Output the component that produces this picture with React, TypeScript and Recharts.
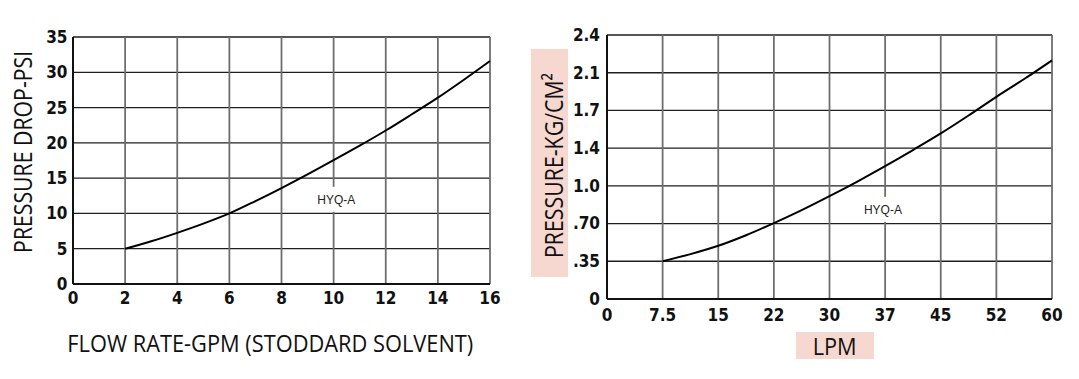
import React from "react";
import {
  LineChart,
  Line,
  XAxis,
  YAxis,
  CartesianGrid,
  ReferenceDot,
} from "recharts";

// ---- Left chart data (GPM vs PSI) ----
const gpm = [2, 3, 4, 5, 6, 7, 8, 9, 10, 11, 12, 13, 14, 15, 16];
const psi = [5, 6.05, 7.25, 8.55, 10, 11.75, 13.6, 15.55, 17.55, 19.6, 21.75, 24.05, 26.4, 28.95, 31.6];
const gpmTicks = [0, 2, 4, 6, 8, 10, 12, 14, 16];
const psiTicks = [0, 5, 10, 15, 20, 25, 30, 35];

// ---- Right chart data (LPM vs KG/CM2) ----
const lpm = [7.5, 11.25, 15, 18.75, 22.5, 26.25, 30, 33.75, 37.5, 41.25, 45, 48.75, 52.5, 56.25, 60];
const kg = [0.343, 0.408, 0.484, 0.58, 0.69, 0.808, 0.935, 1.068, 1.208, 1.354, 1.505, 1.668, 1.838, 2.0, 2.17];
const lpmTicks = [0, 7.5, 15, 22.5, 30, 37.5, 45, 52.5, 60];
const lpmTickLabels = ["0", "7.5", "15", "22", "30", "37", "45", "52", "60"];
const kgTicks = [0, 0.343, 0.686, 1.029, 1.371, 1.714, 2.057, 2.4];
const kgTickLabels = ["0", ".35", ".70", "1.0", "1.4", "1.7", "2.1", "2.4"];

const seriesName = "HYQ-A";

const leftData = gpm.map((g, i) => ({ x: g, y: psi[i] }));
const rightData = lpm.map((l, i) => ({ x: l, y: kg[i] }));

const tickFont = '"Liberation Sans Narrow", "Arial Narrow", "DejaVu Sans Condensed", sans-serif';
const titleFont = '"Open Sans", "Noto Sans", sans-serif';
const PINK = "#f6d8d1";

const makeXTick = (labels: string[] | null, ticks: number[], dy: number) => (props: any) => {
  const { x, y, payload } = props;
  const idx = ticks.indexOf(payload.value);
  const label = labels && idx >= 0 ? labels[idx] : String(payload.value);
  return (
    <text
      x={x}
      y={y + dy}
      textAnchor="middle"
      fontFamily={tickFont}
      fontWeight="bold"
      fontSize={17}
      fill="#111"
    >
      {label}
    </text>
  );
};

const makeYTick = (labels: string[] | null, ticks: number[], dx: number) => (props: any) => {
  const { x, y, payload } = props;
  const idx = ticks.indexOf(payload.value);
  const label = labels && idx >= 0 ? labels[idx] : String(payload.value);
  return (
    <text
      x={x - dx}
      y={y}
      dy="0.35em"
      textAnchor="end"
      fontFamily={tickFont}
      fontWeight="bold"
      fontSize={17}
      fill="#111"
    >
      {label}
    </text>
  );
};

const seriesLabelShape = (dxOff: number) => (props: any) => {
  const { cx, cy } = props;
  return (
    <g>
      <rect x={cx - 24 + dxOff} y={cy - 12.5} width={48} height={25} fill="#fff" />
      <text
        x={cx + dxOff}
        y={cy}
        dy="0.36em"
        textAnchor="middle"
        fontFamily='"Liberation Sans", Arial, sans-serif'
        fontSize={12}
        fill="#222"
      >
        {seriesName}
      </text>
    </g>
  );
};

export default function App() {
  return (
    <div
      style={{
        position: "fixed",
        left: 0,
        top: 0,
        width: 1079,
        height: 379,
        background: "#fff",
        overflow: "hidden",
      }}
    >
      <svg
        width={1079}
        height={379}
        style={{ position: "absolute", left: 0, top: 0 }}
      >
        <text
          transform="translate(32.3,151.9) rotate(-90)"
          textAnchor="middle"
          fontFamily={titleFont}
          fontSize={26}
          textLength={202}
          lengthAdjust="spacingAndGlyphs"
          fill="#111"
        >
          PRESSURE DROP-PSI
        </text>
        <text
          x={67.3}
          y={351.7}
          fontFamily={titleFont}
          fontSize={23}
          textLength={406}
          lengthAdjust="spacingAndGlyphs"
          fill="#111"
        >
          FLOW RATE-GPM (STODDARD SOLVENT)
        </text>
        <rect x={531} y={49} width={37} height={228} fill={PINK} />
        <text
          transform="translate(562.7,258) rotate(-90)"
          textAnchor="start"
          fontFamily={titleFont}
          fontSize={25}
          textLength={185}
          lengthAdjust="spacingAndGlyphs"
          fill="#111"
        >
          PRESSURE-KG/CM²
        </text>
        <rect x={796} y={332} width={78} height={27} fill={PINK} />
        <text
          x={812.7}
          y={355}
          fontFamily={titleFont}
          fontSize={24}
          textLength={44}
          lengthAdjust="spacingAndGlyphs"
          fill="#111"
        >
          LPM
        </text>
      </svg>

      <div style={{ position: "absolute", left: 0, top: 0 }}>
        <LineChart
          width={520}
          height={379}
          data={leftData}
          margin={{ top: 37, right: 30, bottom: 65, left: 13 }}
        >
          <CartesianGrid horizontal={true} vertical={false} stroke="#1e1e1e" strokeWidth={1.3} />
          <CartesianGrid horizontal={false} vertical={true} stroke="#6e6e6e" strokeWidth={1.8} />
          <XAxis
            type="number"
            dataKey="x"
            domain={[0, 16]}
            ticks={gpmTicks}
            interval={0}
            height={30}
            tickSize={0}
            tickMargin={0}
            tickLine={false}
            axisLine={{ stroke: "#111", strokeWidth: 2 }}
            tick={makeXTick(null, gpmTicks, 20)}
          />
          <YAxis
            type="number"
            dataKey="y"
            domain={[0, 35]}
            ticks={psiTicks}
            interval={0}
            width={60}
            tickSize={0}
            tickMargin={0}
            tickLine={false}
            axisLine={{ stroke: "#111", strokeWidth: 2 }}
            tick={makeYTick(null, psiTicks, 5.5)}
          />
          <ReferenceDot x={10.1} y={12} r={0} shape={seriesLabelShape(0)} />
          <Line
            type="monotone"
            dataKey="y"
            stroke="#000"
            strokeWidth={2}
            dot={false}
            isAnimationActive={false}
          />
        </LineChart>
      </div>

      <div style={{ position: "absolute", left: 540, top: 0 }}>
        <LineChart
          width={539}
          height={379}
          data={rightData}
          margin={{ top: 35, right: 27, bottom: 50, left: 7 }}
        >
          <CartesianGrid horizontal={true} vertical={false} stroke="#1e1e1e" strokeWidth={1.3} />
          <CartesianGrid horizontal={false} vertical={true} stroke="#6e6e6e" strokeWidth={1.8} />
          <XAxis
            type="number"
            dataKey="x"
            domain={[0, 60]}
            ticks={lpmTicks}
            interval={0}
            height={30}
            tickSize={0}
            tickMargin={0}
            tickLine={false}
            axisLine={{ stroke: "#111", strokeWidth: 2 }}
            tick={makeXTick(lpmTickLabels, lpmTicks, 21.5)}
          />
          <YAxis
            type="number"
            dataKey="y"
            domain={[0, 2.4]}
            ticks={kgTicks}
            interval={0}
            width={60}
            tickSize={0}
            tickMargin={0}
            tickLine={false}
            axisLine={{ stroke: "#111", strokeWidth: 2 }}
            tick={makeYTick(kgTickLabels, kgTicks, 7)}
          />
          <ReferenceDot x={37.2} y={0.815} r={0} shape={seriesLabelShape(0)} />
          <Line
            type="monotone"
            dataKey="y"
            stroke="#000"
            strokeWidth={2}
            dot={false}
            isAnimationActive={false}
          />
        </LineChart>
      </div>
    </div>
  );
}
